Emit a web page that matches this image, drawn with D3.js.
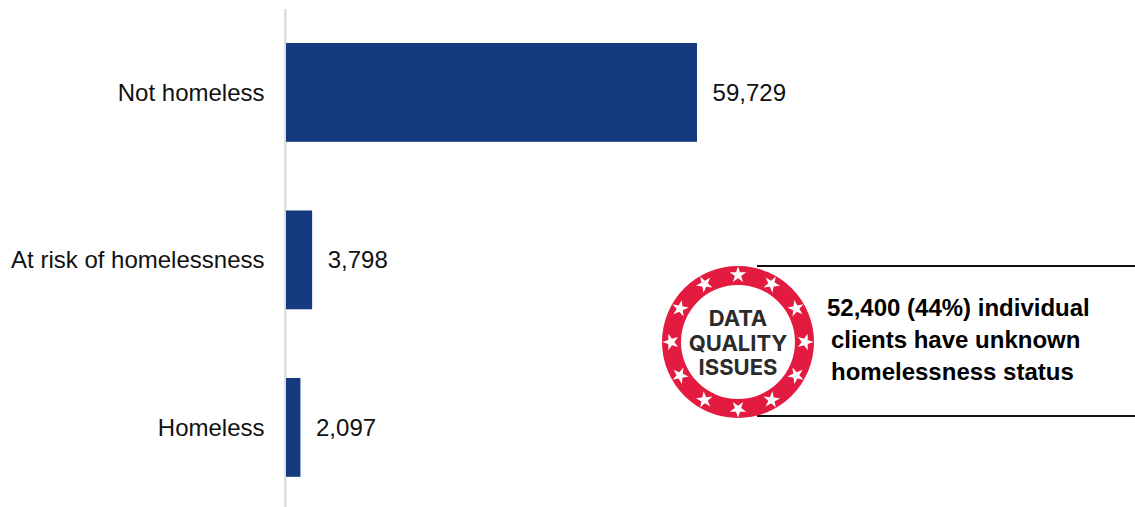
<!DOCTYPE html>
<html>
<head>
<meta charset="utf-8">
<script src="https://cdn.jsdelivr.net/npm/d3@7"></script>
<style>
  html, body { margin: 0; padding: 0; background: #fff; }
  svg { display: block; }
  text { font-family: "Liberation Sans", Arial, sans-serif; }
</style>
</head>
<body>
<div id="chart"></div>
<script>
var categories = ['Not homeless', 'At risk of homelessness', 'Homeless'];
var values = [59729, 3798, 2097];
var noteLines = ['52,400 (44%) individual', 'clients have unknown', 'homelessness status'];
var badgeLines = ['DATA', 'QUALITY', 'ISSUES'];

var svgWidth = 1135;
var svgHeight = 507;
var barColor = '#153a7f';
var badgeRed = '#e31b41';

var svg = d3.select('#chart').append('svg')
	.attr('width', svgWidth)
	.attr('height', svgHeight);

var x = d3.scaleLinear().domain([0, 59729]).range([286, 697]);
var y = d3.scaleBand().domain(categories).range([9.5, 510.3]).paddingInner(0.41).paddingOuter(0.2);

// baseline
svg.append('line')
	.attr('x1', 285.3).attr('x2', 285.3)
	.attr('y1', 9).attr('y2', svgHeight)
	.attr('stroke', '#dcdcdc')
	.attr('stroke-width', 2.4);

svg.selectAll('rect.bar')
	.data(values)
	.enter()
	.append('rect')
	.attr('class', 'bar')
	.attr('x', x(0))
	.attr('y', function (d, i) { return y(categories[i]); })
	.attr('width', function (d) { return x(d) - x(0); })
	.attr('height', y.bandwidth())
	.attr('fill', barColor);

svg.selectAll('text.cat')
	.data(categories)
	.enter()
	.append('text')
	.attr('class', 'cat')
	.attr('x', 264.5)
	.attr('y', function (d) { return y(d) + y.bandwidth() / 2; })
	.attr('dy', '0.35em')
	.attr('text-anchor', 'end')
	.attr('font-size', 24)
	.attr('fill', '#111')
	.text(function (d) { return d; });

svg.selectAll('text.val')
	.data(values)
	.enter()
	.append('text')
	.attr('class', 'val')
	.attr('x', function (d) { return x(d) + 15.6; })
	.attr('y', function (d, i) { return y(categories[i]) + y.bandwidth() / 2; })
	.attr('dy', '0.35em')
	.attr('font-size', 24)
	.attr('fill', '#111')
	.text(d3.format(','));

// callout
svg.selectAll('line.rule')
	.data([266, 416])
	.enter()
	.append('line')
	.attr('class', 'rule')
	.attr('x1', 757).attr('x2', svgWidth)
	.attr('y1', function (d) { return d; })
	.attr('y2', function (d) { return d; })
	.attr('stroke', '#111')
	.attr('stroke-width', 2);

var noteX = [827, 831, 831];
svg.selectAll('text.note')
	.data(noteLines)
	.enter()
	.append('text')
	.attr('class', 'note')
	.attr('x', function (d, i) { return noteX[i]; })
	.attr('y', function (d, i) { return 315.5 + i * 32; })
	.attr('font-size', 24)
	.attr('font-weight', 'bold')
	.attr('fill', '#000')
	.text(function (d) { return d; });

// badge
var badge = svg.append('g').attr('transform', 'translate(738,342)');

badge.append('path')
	.attr('d', d3.arc().innerRadius(57).outerRadius(76).startAngle(0).endAngle(2 * Math.PI)())
	.attr('fill', badgeRed);

var star = d3.symbol().type(d3.symbolStar).size(85);
badge.selectAll('path.star')
	.data(d3.range(12))
	.enter()
	.append('path')
	.attr('class', 'star')
	.attr('d', star())
	.attr('fill', '#fff')
	.attr('transform', function (d) {
		var a = d * 30;
		return 'rotate(' + a + ') translate(0,-67)';
	});

badge.selectAll('text')
	.data(badgeLines)
	.enter()
	.append('text')
	.attr('y', function (d, i) { return -24 + i * 24.5 + 8; })
	.attr('text-anchor', 'middle')
	.attr('font-size', 22)
	.attr('font-weight', 700)
	.attr('fill', '#2b2b2b')
	.style('font-family', 'Inter, sans-serif')
	.text(function (d) { return d; });
</script>
</body>
</html>
